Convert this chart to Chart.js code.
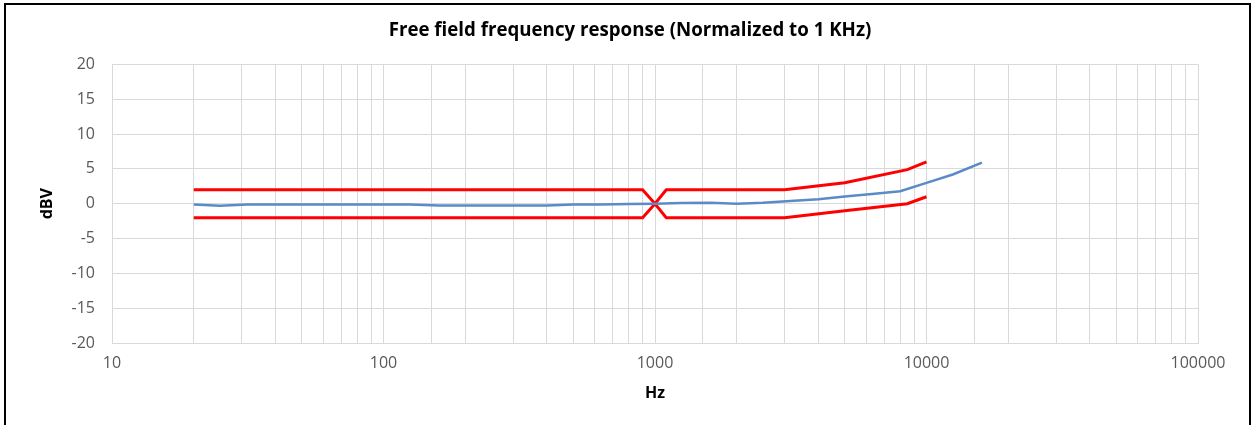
<!DOCTYPE html>
<html>
<head>
<meta charset="utf-8">
<script src="https://cdn.jsdelivr.net/npm/chart.js@4"></script>
<style>
    html, body { margin: 0; padding: 0; background: #ffffff; }
    #wrap { position: relative; width: 1255px; height: 425px; overflow: hidden; }
    #frame {
        position: absolute; left: 4px; top: 3px; width: 1247px; height: 440px;
        border: 2px solid #000000; box-sizing: border-box; pointer-events: none;
    }
    #chart { position: absolute; left: 0; top: 0; }
</style>
</head>
<body>
<div id="wrap">
    <canvas id="chart" width="1255" height="425"></canvas>
    <div id="frame"></div>
</div>
<script>
// measured response (Hz / dBV)
const freqs = [20, 25, 31.5, 40, 50, 63, 80, 100, 125, 160, 200, 250, 315, 400, 500, 630, 800, 1000,
    1250, 1600, 2000, 2500, 3150, 4000, 5000, 6300, 8000, 10000, 12500, 16000];
const response = [-0.1, -0.3, -0.1, -0.1, -0.1, -0.1, -0.1, -0.1, -0.1, -0.25, -0.25, -0.25, -0.25, -0.25, -0.1, -0.1, -0.05, 0,
    0.1, 0.15, 0.0, 0.15, 0.4, 0.65, 1.05, 1.4, 1.8, 3.0, 4.2, 5.9];

// tolerance limits
const limitFreqs = [20, 900, 1000, 1100, 3000, 5000, 8500, 10000];
const upperLimit = [2, 2, 0, 2, 2, 3, 4.9, 6];
const lowerLimit = [-2, -2, 0, -2, -2, -1, 0, 1];

const xTicks = [10, 100, 1000, 10000, 100000];

const toPoints = (xs, ys) => xs.map((x, i) => ({ x: x, y: ys[i] }));

const font = "'Open Sans', sans-serif";
const gridColor = '#d9d9d9';

const ctx = document.getElementById('chart').getContext('2d');
new Chart(ctx, {
    type: 'line',
    data: {
        datasets: [{
            label: 'Response',
            data: toPoints(freqs, response),
            borderColor: '#5b8bc7',
            borderWidth: 2.5,
            pointRadius: 0,
            tension: 0
        }, {
            label: 'Upper',
            data: toPoints(limitFreqs, upperLimit),
            borderColor: '#ff0000',
            borderWidth: 3,
            pointRadius: 0,
            tension: 0
        }, {
            label: 'Lower',
            data: toPoints(limitFreqs, lowerLimit),
            borderColor: '#ff0000',
            borderWidth: 3,
            pointRadius: 0,
            tension: 0
        }]
    },
    options: {
        responsive: false,
        animation: false,
        layout: {
            // symmetric-ish so the title centres on the canvas
            padding: { left: 62, right: 57, top: 0, bottom: 19 }
        },
        plugins: {
            legend: { display: false },
            tooltip: { enabled: false },
            title: {
                display: true,
                text: 'Free field frequency response (Normalized to 1 KHz)',
                color: '#000000',
                font: { family: font, size: 18.7, weight: 'bold' },
                padding: { top: 19, bottom: 23 }
            }
        },
        scales: {
            x: {
                type: 'logarithmic',
                min: 10,
                max: 100000,
                afterFit: function(scale) { scale.height = 63; },
                title: {
                    display: true,
                    text: 'Hz',
                    color: '#000000',
                    font: { family: font, size: 16, weight: 'bold' },
                    padding: { top: 4, bottom: 3 }
                },
                ticks: {
                    autoSkip: false,
                    maxRotation: 0,
                    padding: 11,
                    color: '#595959',
                    font: { family: font, size: 16 },
                    callback: function(value) {
                        return xTicks.includes(value) ? String(value) : '';
                    }
                },
                grid: {
                    color: gridColor,
                    drawTicks: false
                },
                border: { color: gridColor }
            },
            y: {
                min: -20,
                max: 20,
                afterFit: function(scale) { scale.width = 50; },
                title: {
                    display: true,
                    text: 'dBV',
                    color: '#000000',
                    font: { family: font, size: 16, weight: 'bold' },
                    padding: { top: -24, bottom: 0 }
                },
                ticks: {
                    stepSize: 5,
                    padding: 17,
                    color: '#595959',
                    font: { family: font, size: 16 }
                },
                grid: {
                    color: gridColor,
                    drawTicks: false
                },
                border: { color: gridColor }
            }
        }
    }
});
</script>
</body>
</html>
